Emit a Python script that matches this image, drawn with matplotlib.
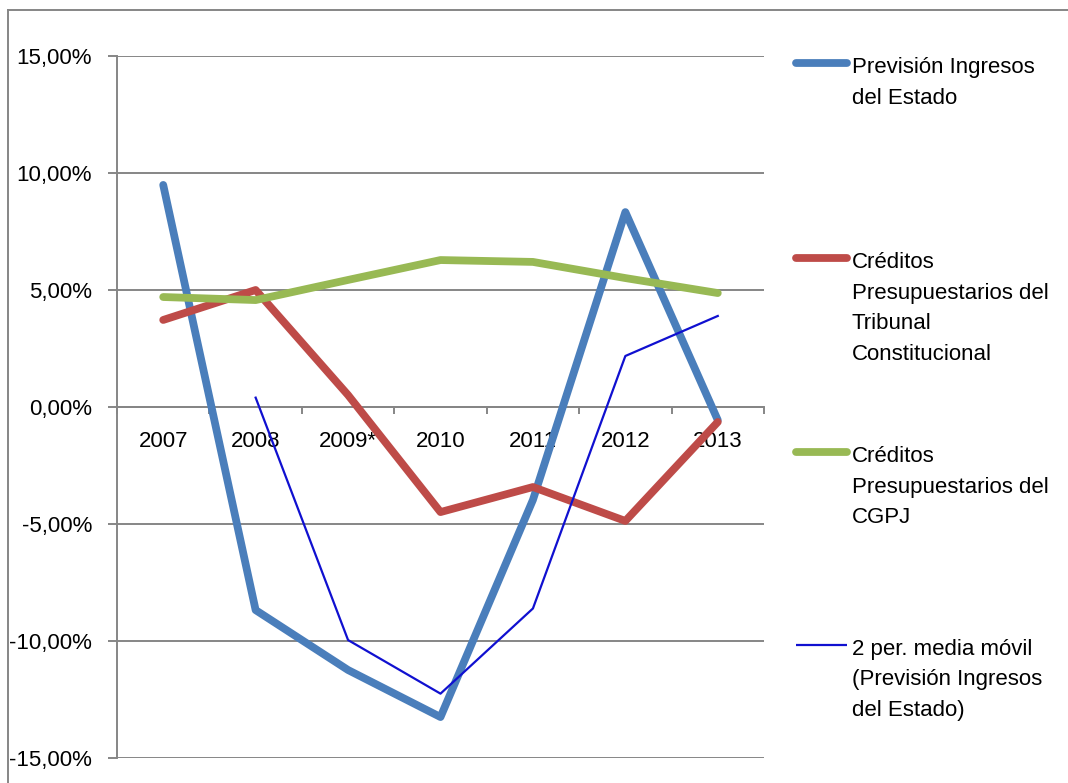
import matplotlib
matplotlib.use("Agg")
import matplotlib.pyplot as plt
from matplotlib.lines import Line2D
from matplotlib.ticker import FuncFormatter, FixedLocator

plt.rcParams['font.family'] = ['Liberation Sans', 'DejaVu Sans']

# Year-on-year variation (%)
years = ["2007", "2008", "2009*", "2010", "2011", "2012", "2013"]
ingresos_estado = [9.49, -8.68, -11.24, -13.25, -3.97, 8.33, -0.56]
tribunal_constitucional = [3.72, 5.00, 0.51, -4.49, -3.42, -4.87, -0.64]
cgpj = [4.70, 4.57, 5.43, 6.28, 6.20, 5.51, 4.87]
# 2-period moving average of ingresos_estado (starts at 2008)
media_movil = [None, 0.40, -9.96, -12.25, -8.61, 2.18, 3.89]

legend_labels = [
    ["Previsión Ingresos", "del Estado"],
    ["Créditos", "Presupuestarios del", "Tribunal", "Constitucional"],
    ["Créditos", "Presupuestarios del", "CGPJ"],
    ["2 per. media móvil", "(Previsión Ingresos", "del Estado)"],
]

BLUE = "#4A7EBB"
RED = "#BE4B48"
GREEN = "#98B954"
TREND = "#1010D0"
GRID = "#868686"

W, H = 1068, 783
fig = plt.figure(figsize=(W / 100, H / 100), dpi=100)
ax = fig.add_axes([117 / W, 1 - 758 / H, (764 - 117) / W, (758 - 56) / H])

x = list(range(len(years)))
ax.plot(x, ingresos_estado, color=BLUE, lw=5.6, solid_capstyle="round",
        solid_joinstyle="round", zorder=3)
ax.plot(x, tribunal_constitucional, color=RED, lw=5.6, solid_capstyle="round",
        solid_joinstyle="round", zorder=4)
ax.plot(x, cgpj, color=GREEN, lw=5.6, solid_capstyle="round",
        solid_joinstyle="round", zorder=5)
mx = [i for i, v in zip(x, media_movil) if v is not None]
my = [v for v in media_movil if v is not None]
ax.plot(mx, my, color=TREND, lw=1.6, zorder=6)

ax.set_xlim(-0.5, len(years) - 0.5)
ax.set_ylim(-15, 15)

# y axis
ax.yaxis.set_major_locator(FixedLocator([-15, -10, -5, 0, 5, 10, 15]))
ax.yaxis.set_major_formatter(FuncFormatter(lambda v, p: f"{v:.2f}%".replace(".", ",")))
ax.tick_params(axis="y", length=6.5, width=1.4, color=GRID, pad=11.5, labelsize=16)
ax.grid(axis="y", color=GRID, lw=1.4, zorder=1)

# x axis drawn on the zero line
for s in ("top", "right"):
    ax.spines[s].set_visible(False)
ax.spines["left"].set_color(GRID)
ax.spines["left"].set_linewidth(1.4)
ax.spines["bottom"].set_position(("data", 0))
ax.spines["bottom"].set_color(GRID)
ax.spines["bottom"].set_linewidth(1.4)
ax.set_xticks(x)
ax.set_xticklabels(years)
ax.set_xticks([i - 0.5 for i in range(len(years) + 1)], minor=True)
ax.tick_params(axis="x", which="major", length=0, pad=17, labelsize=16)
ax.tick_params(axis="x", which="minor", length=5, width=1.4, color=GRID,
               direction="out")

# outer chart frame
fig.add_artist(Line2D([8 / W, 8 / W], [0, 1 - 10 / H], transform=fig.transFigure,
                      color=GRID, lw=1.4))
fig.add_artist(Line2D([8 / W, 1], [1 - 10 / H, 1 - 10 / H], transform=fig.transFigure,
                      color=GRID, lw=1.4))

# legend
styles = [(BLUE, 5.6), (RED, 5.6), (GREEN, 5.6), (TREND, 1.6)]
sample_y = [63, 258, 452, 645]
for (col, lw), y0, lines in zip(styles, sample_y, legend_labels):
    fy = 1 - y0 / H
    cap = "round" if lw > 2 else "butt"
    fig.add_artist(Line2D([796 / W, 847 / W], [fy, fy], transform=fig.transFigure,
                          color=col, lw=lw, solid_capstyle=cap))
    for k, line in enumerate(lines):
        base = y0 + 10 + 30.5 * k
        fig.text(852 / W, 1 - base / H, line, fontsize=16, va="baseline",
                 ha="left", color="black")

fig.savefig("out.png", dpi=100)
